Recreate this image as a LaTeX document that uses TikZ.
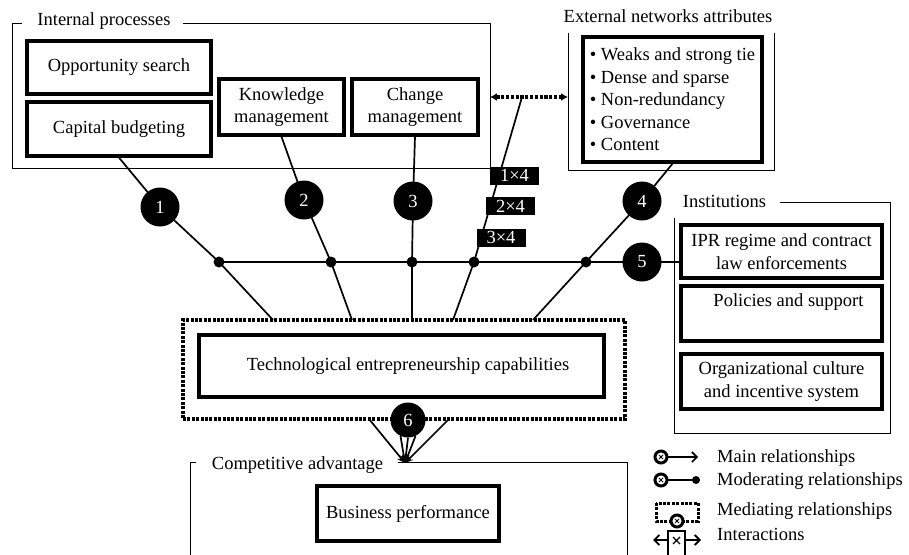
\documentclass[tikz,border=0pt]{standalone}
\usepackage{fontspec}
\setmainfont{Liberation Serif}
\usetikzlibrary{arrows.meta,calc}
\pgfdeclarelayer{bg}
\pgfsetlayers{bg,main}
\begin{document}
\begin{tikzpicture}[x=1pt,y=-1pt,font=\fontsize{18.5}{22.5}\selectfont]
\tikzset{
 box/.style={draw, line width=3.3pt, fill=white, inner sep=0pt, align=center},
 grp/.style={line width=0.9pt},
 conn/.style={line width=1.7pt},
 num/.style={circle, fill=black, text=white, inner sep=0pt, minimum size=39pt},
 lab/.style={fill=black, text=white, inner sep=0pt, minimum width=49pt, minimum height=18pt},
 jdot/.style={circle, fill=black, inner sep=0pt, minimum size=11pt},
 ttl/.style={inner sep=0pt},
 ring/.style={line width=3pt, fill=white},
 meddots/.style={line width=3.6pt, dash pattern=on 3pt off 1.4pt},
}
\useasboundingbox (0,0) rectangle (909,554);

% boxes
\node[box, minimum width=184pt, minimum height=53pt] (os) at (119,67.5) {Opportunity search};
\node[box, minimum width=184pt, minimum height=54pt] (cb) at (119,129) {Capital budgeting};
\node[box, minimum width=125pt, minimum height=56pt] (km) at (281.5,107) {Knowledge\\management};
\node[box, minimum width=126pt, minimum height=56pt] (cm) at (415,107) {Change\\management};
\node[box, minimum width=179pt, minimum height=125pt, align=left] (en) at (672.5,99.5)
 {\textbullet\ Weaks and strong tie\\\textbullet\ Dense and sparse\\\textbullet\ Non-redundancy\\\textbullet\ Governance\\\textbullet\ Content};
\node[box, minimum width=201pt, minimum height=53pt] (ipr) at (781.5,251.5) {IPR regime and contract\\law enforcements};
\node[box, minimum width=201pt, minimum height=55pt] (pol) at (781.5,313.5) {\hspace*{14pt}Policies and support\\[5pt]};
\node[box, minimum width=201pt, minimum height=55pt] (org) at (781.5,381.5) {Organizational culture\\and incentive system};
\node[draw, meddots, minimum width=442pt, minimum height=99pt, inner sep=0pt] (tecd) at (404,369.5) {};
\node[box, minimum width=405pt, minimum height=62pt] (tec) at (401.5,366) {\hspace*{13pt}Technological entrepreneurship capabilities};
\node[box, minimum width=182pt, minimum height=55pt] (bp) at (408,513.5) {Business performance};

% group titles and frames
\node[ttl] (tip) at (104,21) {Internal processes};
\node[ttl] (ten) at (668,16) {External networks attributes};
\node[ttl] (tin) at (724.5,201) {Institutions};
\node[ttl] (tca) at (297.5,465.5) {Competitive advantage};
\draw[grp] (22,23) -- (12,23) -- (12,168) -- (490,168) -- (490,23) -- (183,23);
\draw[grp] (568,33) -- (568,170) -- (774,170) -- (774,33);
\draw[grp] (780,202) -- (890,202) -- (890,433) -- (674,433) -- (674,218);
\draw[grp] (196,462) -- (190,462) -- (190,560);
\draw[grp] (398,462) -- (627,462) -- (627,560);

% interaction arrow
\coordinate (ipR) at (490,97);
\coordinate (enL) at (568,97);
\coordinate (ia) at (522,97);
\draw[line width=3.2pt, dash pattern=on 3.2pt off 1.6pt, {Latex[length=7pt,width=8pt]}-{Latex[length=7pt,width=8pt]}] (ipR) -- (enL);

% numbered circles
\node[num] (n1) at (160,207) {1};
\node[num] (n2) at (304,200) {2};
\node[num] (n3) at (413,201) {3};
\node[num] (n4) at (642,201) {4};
\node[num] (n5) at (642,262) {5};
\node[num, minimum size=35pt] (n6) at (408,420) {6};

% junction dots
\node[jdot] (d1) at (219,262) {};
\node[jdot] (d2) at (331,262) {};
\node[jdot] (d3) at (412,262) {};
\node[jdot] (d4) at (474,262) {};
\node[jdot] (d5) at (586,262) {};

% ends on mediating box
\coordinate (e1) at (273,320);
\coordinate (e2) at (352,320);
\coordinate (e3) at (412,320);
\coordinate (e4) at (453,320);
\coordinate (e5) at (533,320);

\begin{pgfonlayer}{bg}
\draw[conn] (cb.south) -- (n1.center) -- (d1.center) -- (e1);
\draw[conn] (km.south) -- (n2.center) -- (d2.center) -- (e2);
\draw[conn] (cm.south) -- (n3.center) -- (d3.center) -- (e3);
\draw[conn] (ia) -- (d4.center) -- (e4);
\draw[conn] (en.south) -- (n4.center) -- (d5.center) -- (e5);
\draw[conn] (d1.center) -- (d1.center -| ipr.west);
\end{pgfonlayer}

% interaction labels
\node[lab] (x1) at (514.5,175.5) {1\texttimes4};
\node[lab] (x2) at (510.5,206) {2\texttimes4};
\node[lab] (x3) at (501,237.5) {3\texttimes4};

% fan to competitive advantage
\coordinate (tipc) at (405,463);
\coordinate (f1) at (369,419);
\coordinate (f5) at (449,419);
\foreach \s in {f1,n6.245,n6.270,n6.295,f5}
  \draw[conn, -{Stealth[length=8pt,width=7pt]}] (\s) -- (tipc);

% legend
\draw[ring] (661,457) circle (6);
\draw[line width=1pt] (659,455) -- (663,459) (659,459) -- (663,455);
\draw[line width=1.6pt, -{Straight Barb[length=5pt,width=10pt]}] (668,457) -- (698,457);
\node[anchor=west, inner sep=0pt] (l1) at (717,457.7) {Main relationships};

\draw[line width=1.6pt] (668,480) -- (695,480);
\fill (696,480) circle (4);
\draw[ring] (661,480) circle (6);
\draw[line width=1pt] (659,478) -- (663,482) (659,482) -- (663,478);
\node[anchor=west, inner sep=0pt] (l2) at (717,480.7) {Moderating relationships};

\draw[meddots, line width=3pt] (656,503) rectangle (698,521);
\draw[ring] (677,521) circle (6);
\draw[line width=1pt] (675,519) -- (679,523) (675,523) -- (679,519);
\node[anchor=west, inner sep=0pt] (l3) at (717,510.7) {Mediating relationships};

\draw[line width=1.8pt, {Straight Barb[length=5pt,width=10pt]}-{Straight Barb[length=5pt,width=10pt]}] (653,540) -- (701,540);
\draw[line width=2.4pt, fill=white] (668,531) rectangle (685,556);
\draw[line width=1.2pt] (673,537) -- (680,544) (673,544) -- (680,537);
\node[anchor=west, inner sep=0pt] (l4) at (717,534) {Interactions};
\end{tikzpicture}
\end{document}
